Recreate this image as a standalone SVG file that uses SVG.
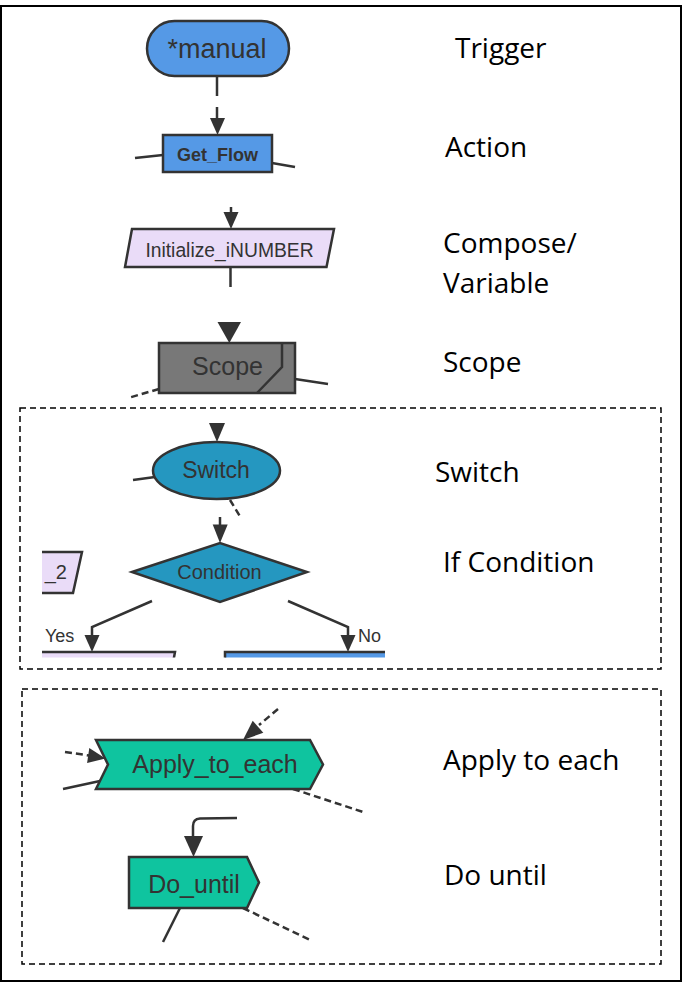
<svg xmlns="http://www.w3.org/2000/svg" width="684" height="985" viewBox="0 0 684 985">
<style>
.nd{stroke:#333;stroke-width:2.5;stroke-linejoin:miter}
.blue{fill:#5599e6}
.lav{fill:#eadcf8}
.teal{fill:#2597c0}
.green{fill:#0fc49f}
.gray{fill:#787878}
.t{font-family:"Liberation Sans",Arial,sans-serif;fill:#333;text-anchor:middle}
.lbl{font-family:"Open Sans","Noto Sans",sans-serif;font-size:28px;fill:#000}
.ln{stroke:#333;stroke-width:2.5;fill:none}
.dl{stroke:#333;stroke-width:2.5;fill:none;stroke-dasharray:7 4}
.ah{fill:#333}
.box{fill:none;stroke:#000;stroke-width:1.5;stroke-dasharray:6 4}
</style>
<defs>
<clipPath id="c1"><rect x="42" y="400" width="343" height="257.5"/></clipPath>
</defs>
<rect x="0" y="0" width="684" height="985" fill="#fff"/>
<rect x="1" y="6" width="680" height="975" fill="none" stroke="#000" stroke-width="2"/>
<rect class="box" x="20" y="408" width="641" height="261"/>
<rect class="box" x="22" y="689" width="639" height="275"/>

<g id="connectors">
<line class="ln" x1="217" y1="76" x2="217" y2="96"/>
<line class="ln" x1="217" y1="107" x2="217" y2="120"/>
<polygon class="ah" points="210,118 225,118 217.5,135"/>
<line class="ln" x1="135" y1="158" x2="163" y2="155"/>
<line class="ln" x1="272" y1="163" x2="295" y2="167"/>
<line class="ln" x1="231" y1="207" x2="231" y2="214"/>
<polygon class="ah" points="223.5,212 238.5,212 231,229"/>
<line class="ln" x1="230.5" y1="267" x2="230.5" y2="287"/>
<polygon class="ah" points="217.5,322 241,322 229.3,343"/>
<line class="ln" x1="295" y1="379" x2="328" y2="384"/>
<line class="dl" x1="159" y1="389" x2="128" y2="398"/>
<polygon class="ah" points="209,423 225,423 217,442"/>
<line class="ln" x1="133" y1="480" x2="155" y2="477"/>
<line class="dl" x1="230" y1="500" x2="241" y2="518"/>
<line class="ln" x1="220" y1="517" x2="220" y2="526"/>
<polygon class="ah" points="212.7,524.5 227.7,524.5 220,543"/>
<polyline class="ln" points="152,601 92,627 92,637"/>
<polygon class="ah" points="84.5,635 99.5,635 92,652"/>
<polyline class="ln" points="288,601 348,627 348,637"/>
<polygon class="ah" points="340.5,635 355.5,635 348,652"/>
<line class="dl" x1="65" y1="752" x2="89" y2="755.5"/>
<polygon class="ah" points="105.5,758.5 87.1,762.9 89.3,748.1"/>
<line class="ln" x1="63" y1="789" x2="100" y2="781"/>
<line class="dl" x1="278" y1="709" x2="259" y2="725"/>
<polygon class="ah" points="243,740 263.3,732.8 252.7,720.8"/>
<line class="dl" x1="293" y1="789" x2="363" y2="812"/>
<path class="ln" d="M237,818 L200,818.5 Q193,819 193,826 L193,838"/>
<polygon class="ah" points="184,836 203,836 193.5,857"/>
<line class="ln" x1="180" y1="908" x2="163" y2="942"/>
<line class="dl" x1="243" y1="908" x2="310" y2="940"/>
</g>

<g id="n-manual">
<rect class="nd blue" x="147" y="21" width="142" height="55" rx="27.5"/>
<text class="t" x="217" y="58" font-size="27">*manual</text>
</g>
<g id="n-getflow">
<rect class="nd blue" x="163" y="135" width="109" height="37"/>
<text class="t" x="217.5" y="161" font-size="18" font-weight="bold">Get_Flow</text>
</g>
<g id="n-init">
<polygon class="nd lav" points="132,229 334,229 326.5,267 125,267"/>
<text class="t" x="229.5" y="257" font-size="19.3">Initialize_iNUMBER</text>
</g>
<g id="n-scope">
<rect class="nd gray" x="159" y="343" width="136" height="50"/>
<polyline class="ln" points="282,343 282,367 257,393"/>
<text class="t" x="227.5" y="375" font-size="25">Scope</text>
</g>
<g id="n-switch">
<ellipse class="nd teal" cx="216.5" cy="470.5" rx="63.5" ry="28.5"/>
<text class="t" x="216" y="478" font-size="23">Switch</text>
</g>
<g id="n-condition">
<polygon class="nd teal" points="132,572 220,543 307,572 220,602"/>
<text class="t" x="219.5" y="579" font-size="20">Condition</text>
</g>
<g id="n-left2" clip-path="url(#c1)">
<polygon class="nd lav" points="20,552 82,552 73,593 12,593"/>
<text class="t" x="67" y="579" font-size="20" style="text-anchor:end">_2</text>
</g>
<g id="n-yesbranch" clip-path="url(#c1)">
<polygon class="nd lav" points="20,652 175,652 168,690 12,690"/>
</g>
<g id="n-nobranch" clip-path="url(#c1)">
<rect class="nd blue" x="225" y="652" width="200" height="40"/>
</g>
<g id="edge-labels">
<text class="t" x="45" y="642" font-size="18" style="text-anchor:start">Yes</text>
<text class="t" x="358" y="642" font-size="18" style="text-anchor:start">No</text>
</g>
<g id="n-apply">
<polygon class="nd green" points="96,740 310,740 323,764.5 310,789 96,789 108,764.5"/>
<text class="t" x="215" y="773" font-size="25">Apply_to_each</text>
</g>
<g id="n-dountil">
<polygon class="nd green" points="129,857 247,857 259,882.5 247,908 129,908"/>
<text class="t" x="194" y="893" font-size="25">Do_until</text>
</g>

<g id="legend">
<text class="lbl" x="455" y="58">Trigger</text>
<text class="lbl" x="445" y="157">Action</text>
<text class="lbl" x="443" y="253">Compose/</text>
<text class="lbl" x="443" y="293">Variable</text>
<text class="lbl" x="443" y="372">Scope</text>
<text class="lbl" x="435" y="482">Switch</text>
<text class="lbl" x="443" y="572">If Condition</text>
<text class="lbl" x="443" y="770">Apply to each</text>
<text class="lbl" x="444" y="885">Do until</text>
</g>
</svg>
